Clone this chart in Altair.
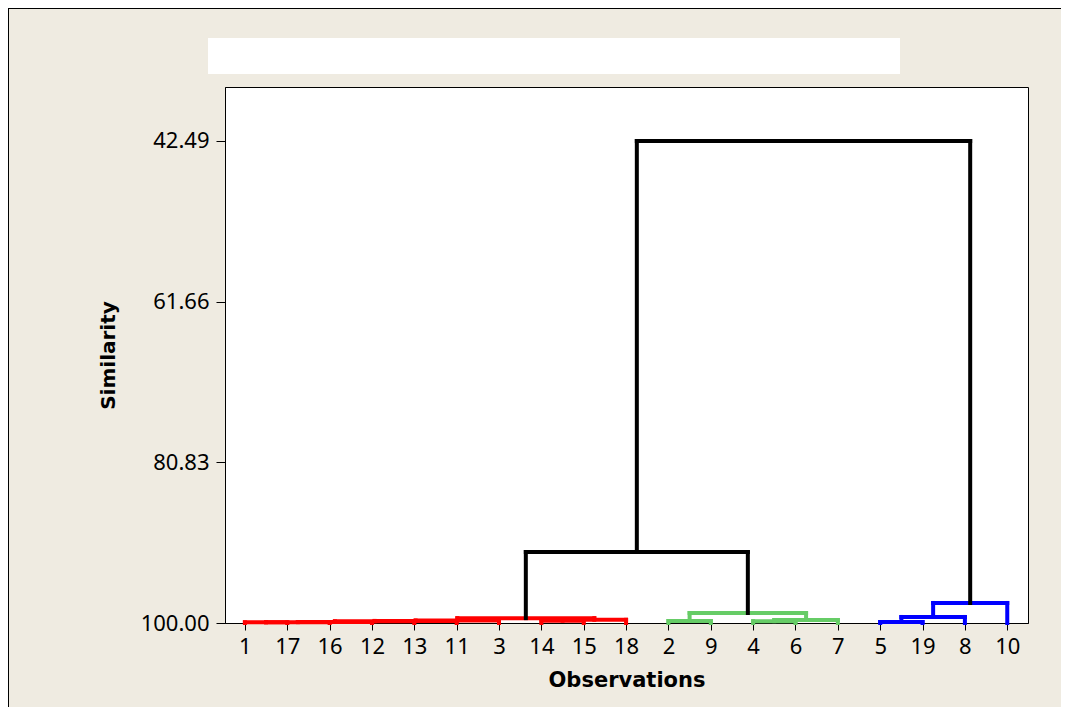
import altair as alt
import pandas as pd

# Leaf order along the x axis (observation numbers)
leaves = ["1", "17", "16", "12", "13", "11", "3", "14", "15", "18",
          "2", "9", "4", "6", "7", "5", "19", "8", "10"]

# Agglomeration steps
merge_ids = ["a", "b", "c", "d", "e", "f", "g", "h", "i",
             "j", "k", "l", "m",
             "n", "o", "p",
             "q", "r"]
merge_left = ["1", "a", "b", "c", "d", "e", "14", "g", "f",
              "2", "4", "k", "j",
              "5", "n", "o",
              "i", "q"]
merge_right = ["17", "16", "12", "13", "11", "3", "15", "18", "h",
               "9", "6", "7", "l",
               "19", "8", "10",
               "m", "p"]
merge_similarity = [99.92, 99.90, 99.88, 99.80, 99.75, 99.70, 99.72, 99.62, 99.42,
                    99.76, 99.78, 99.64, 98.81,
                    99.88, 99.28, 97.61,
                    91.53, 42.49]
merge_color = ["#FF0000"] * 9 + ["#66CC66"] * 4 + ["#0000FF"] * 3 + ["#000000"] * 2

y_ticks = [42.49, 61.66, 80.83, 100.00]

# Build dendrogram segments from the merge table
pos = {lab: float(i) for i, lab in enumerate(leaves)}
hgt = {lab: 100.0 for lab in leaves}
rows = []
for mid, l, r, s, c in zip(merge_ids, merge_left, merge_right, merge_similarity, merge_color):
    for child in (l, r):
        rows.append({"x": pos[child], "x2": pos[child], "y": hgt[child], "y2": s, "color": c})
    rows.append({"x": pos[l], "x2": pos[r], "y": s, "y2": s, "color": c})
    pos[mid] = (pos[l] + pos[r]) / 2
    hgt[mid] = s
segs = pd.DataFrame(rows)

label_expr = "[" + ",".join("'%s'" % v for v in leaves) + "][datum.value]"

W, H = 803, 536
PL, PT, PR, PB = 217, 79, 33, 84

x_scale = alt.Scale(domain=[-0.47, len(leaves) - 1 + 0.49], nice=False, zero=False)
y_scale = alt.Scale(domain=[36.05, 100.0], reverse=True, nice=False, zero=False)

dendro = alt.Chart(segs).mark_rule(strokeWidth=4, strokeCap="square").encode(
    x=alt.X("x:Q", scale=x_scale,
            axis=alt.Axis(title="Observations", values=list(range(len(leaves))),
                          labelExpr=label_expr, grid=False, tickSize=7,
                          labelPadding=6, titleY=57, titleBaseline="middle",
                          labelFontSize=22, labelFont="Noto Sans",
                          titleFont="DejaVu Sans", titleFontSize=21,
                          titleFontWeight="bold")),
    x2="x2:Q",
    y=alt.Y("y:Q", scale=y_scale,
            axis=alt.Axis(title="Similarity", values=y_ticks, format=".2f",
                          grid=False, tickSize=9, labelPadding=7,
                          titleX=-117, titleBaseline="middle",
                          labelFontSize=22, labelFont="Noto Sans",
                          titleFont="DejaVu Sans", titleFontSize=20,
                          titleFontWeight="bold")),
    y2="y2:Q",
    color=alt.Color("color:N", scale=None),
)

one = pd.DataFrame({"k": [0]})
title_box = alt.Chart(one).mark_rect(fill="white").encode(
    x=alt.value(-17), x2=alt.value(675), y=alt.value(-49), y2=alt.value(-13)
)
top_line = alt.Chart(one).mark_rule(color="black", strokeWidth=1).encode(
    x=alt.value(-PL), x2=alt.value(W + PR), y=alt.value(-PT + 0.5)
)
left_line = alt.Chart(one).mark_rule(color="black", strokeWidth=1).encode(
    x=alt.value(-PL + 0.5), y=alt.value(-PT), y2=alt.value(H + PB)
)

chart = alt.layer(title_box, top_line, left_line, dendro).properties(
    width=W, height=H,
    autosize=alt.AutoSizeParams(type="none"),
    padding={"left": PL, "top": PT, "right": PR, "bottom": PB},
    background="#EFEBE1",
).configure_view(
    fill="white", stroke="black", strokeWidth=1
).configure_axis(
    domainColor="black", tickColor="black", labelColor="black", titleColor="black",
    domainWidth=1, tickWidth=1
)

chart.save("out.html", embed_options={"renderer": "svg", "actions": False})
